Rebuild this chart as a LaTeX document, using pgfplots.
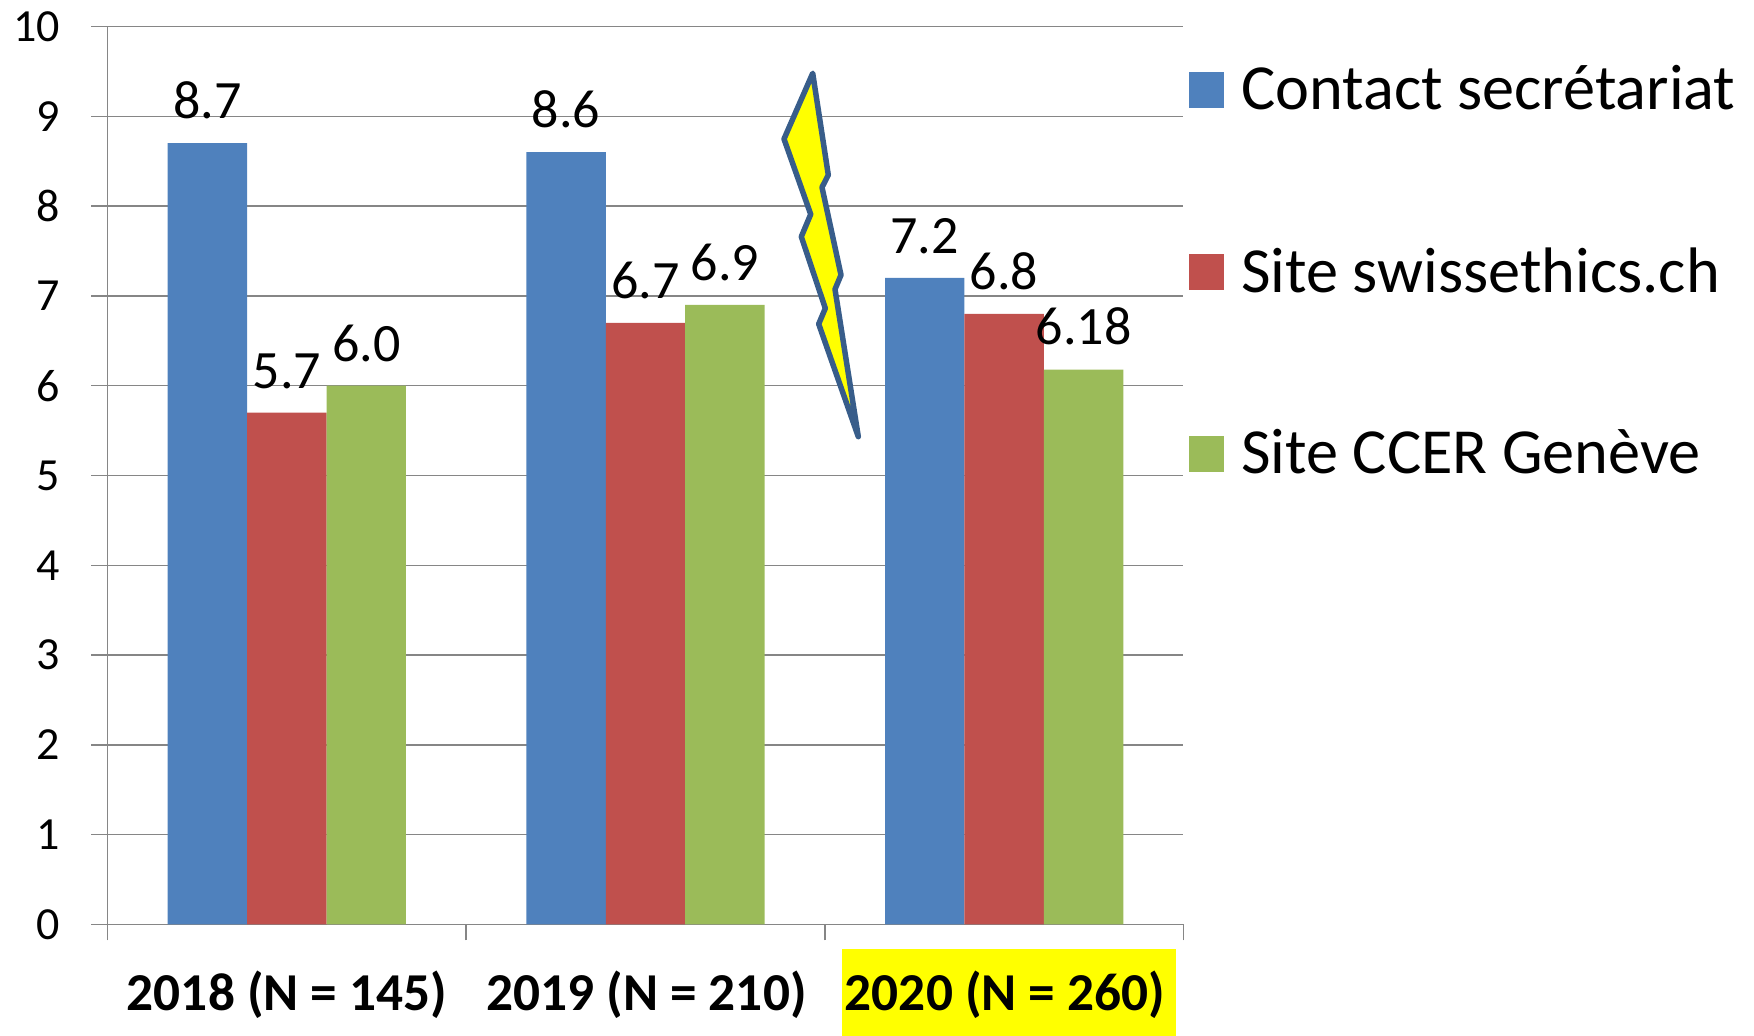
\documentclass[border=0pt]{standalone}
\usepackage{pgfplots}
\pgfplotsset{compat=1.18}
\usepackage{fontspec}
\setmainfont{Carlito}
\definecolor{cblue}{HTML}{4F81BD}
\definecolor{cred}{HTML}{C0504D}
\definecolor{cgreen}{HTML}{9BBB59}
\definecolor{cgrid}{HTML}{868686}
\definecolor{cbolt}{HTML}{385D8A}
\definecolor{hl}{HTML}{FFFF00}
\begin{document}
\begin{tikzpicture}[x=1pt,y=1pt]
\path (0,0) rectangle (1754,1036);
\begin{axis}[
  at={(107.5pt,111.5pt)}, anchor=south west,
  width=1076pt, height=898pt, scale only axis,
  xmin=-0.5, xmax=2.5, ymin=0, ymax=10,
  clip=false,
  axis lines=left, axis line style={-,cgrid,line width=1.4pt},
  ytick={0,...,10},
  xtick={-0.5,0.5,1.5,2.5}, xticklabels={},
  tick style={cgrid,line width=1.4pt},
  major tick length=16pt,
  xtick align=outside, ytick align=outside,
  ymajorgrids, grid style={cgrid,line width=1.4pt},
  tick label style={font=\fontsize{46}{46}\selectfont},
  /pgf/number format/assume math mode=true,
  yticklabel style={xshift=-28pt},
  nodes near coords,
  nodes near coords style={font=\fontsize{54}{54}\selectfont,text=black,inner sep=3pt,yshift=21pt},
  point meta=explicit symbolic,
]
\addplot[ybar,bar width=0.2214,bar shift=-0.2214,fill=cblue,draw=none,nodes near coords style={xshift=-79.4pt}] coordinates {(0,8.7)[8.7] (1,8.6)[8.6] (2,7.2)[7.2]};
\addplot[ybar,bar width=0.2214,bar shift=0,fill=cred,draw=none] coordinates {(0,5.7)[5.7] (1,6.7)[6.7] (2,6.8)[6.8]};
\addplot[ybar,bar width=0.2214,bar shift=0.2214,fill=cgreen,draw=none,nodes near coords style={xshift=79.4pt}] coordinates {(0,6.0)[6.0] (1,6.9)[6.9] (2,6.18)[6.18]};
\end{axis}
% x labels
\fill[hl] (842,0) rectangle (1176,87);
\node[font=\fontsize{53.3}{53.3}\selectfont\bfseries] at (287,41) {2018 (N = 145)};
\node[font=\fontsize{53.3}{53.3}\selectfont\bfseries] at (646.5,41) {2019 (N = 210)};
\node[font=\fontsize{53.3}{53.3}\selectfont\bfseries] at (1005,41) {2020 (N = 260)};
% legend
\fill[cblue] (1189,928) rectangle (1224,964);
\fill[cred] (1189,746) rectangle (1224,782);
\fill[cgreen] (1189,564) rectangle (1224,600);
\node[anchor=west,inner sep=0pt,font=\fontsize{64.3}{64.3}\selectfont] at (1241,948) {Contact secrétariat};
\node[anchor=west,inner sep=0pt,font=\fontsize{64.3}{64.3}\selectfont] at (1241,766) {Site swissethics.ch};
\node[anchor=west,inner sep=0pt,font=\fontsize{64.3}{64.3}\selectfont] at (1241,584) {Site CCER Genève};
% bolt
\draw[cbolt,line width=5.5pt,fill=hl,line join=round]
  (812.7,962.7) -- (784,897) -- (810.7,821.7) -- (801.3,799.3) -- (825.3,727.7) -- (818.7,712) -- (858.3,599.3)
  -- (835,746.7) -- (841,761) -- (822,848.7) -- (828.3,861) -- cycle;
\end{tikzpicture}
\end{document}
